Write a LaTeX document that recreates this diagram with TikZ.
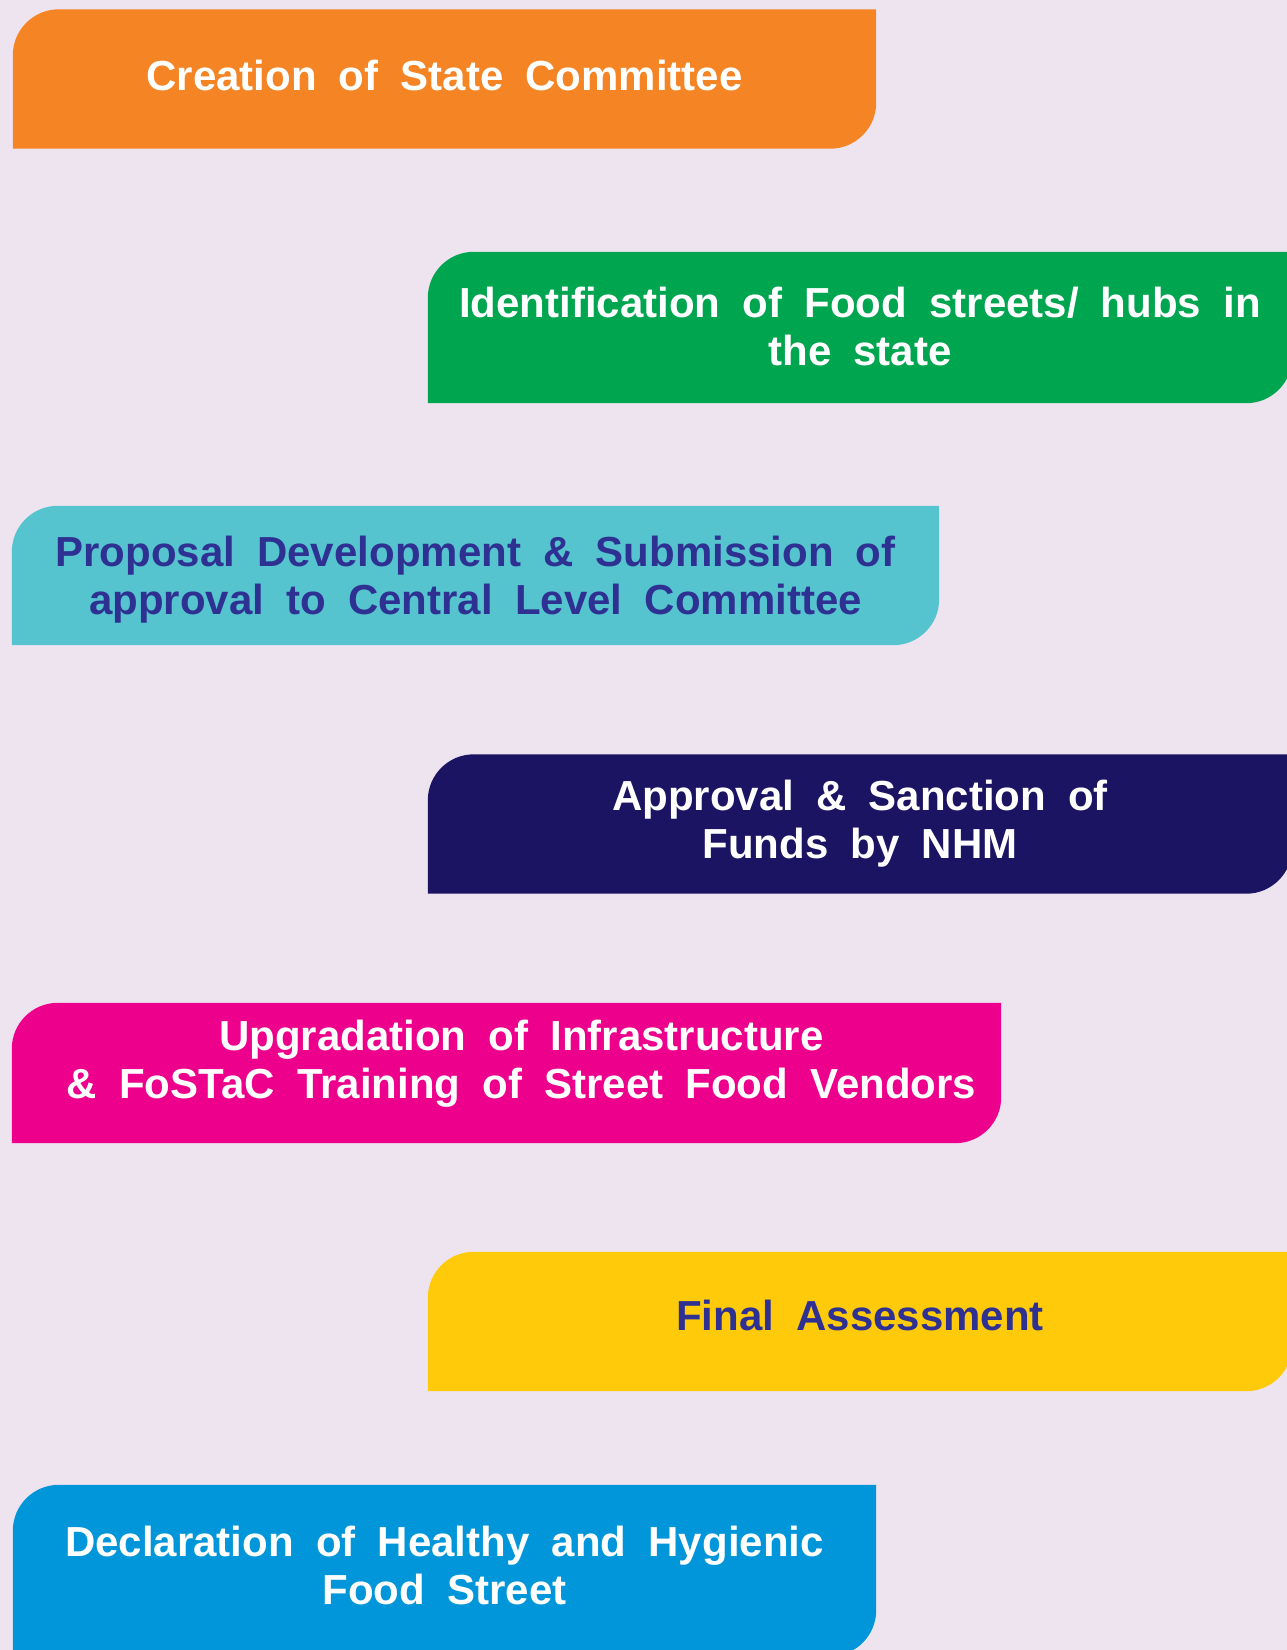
\documentclass[tikz,border=0pt]{standalone}
\usepackage{fontspec}
\setmainfont{Liberation Sans}[WordSpace=1.9]
\usepackage{tikz}

\definecolor{bgpage}{RGB}{238,228,240}
\definecolor{inkblue}{RGB}{46,49,146}
\definecolor{orangestep}{RGB}{244,132,36}
\definecolor{greenstep}{RGB}{0,165,80}
\definecolor{cyanstep}{RGB}{85,196,207}
\definecolor{navystep}{RGB}{27,20,98}
\definecolor{magentastep}{RGB}{236,0,140}
\definecolor{yellowstep}{RGB}{254,202,10}
\definecolor{bluestep}{RGB}{0,150,217}

\newlength{\cornerrad}
\setlength{\cornerrad}{46pt}

% box with rounded top left and bottom right corners only
\newcommand{\stepfill}[2]{%
    \fill[#2] (#1.south west) -- ([yshift=-\cornerrad]#1.north west)
        arc[start angle=180, end angle=90, radius=\cornerrad] -- (#1.north east)
        -- ([yshift=\cornerrad]#1.south east)
        arc[start angle=0, end angle=-90, radius=\cornerrad] -- cycle;}

\begin{document}
\begin{tikzpicture}[x=1pt,y=1pt,
        stepbox/.style={minimum height=139pt, inner sep=0pt},
        steptext/.style={align=center, font=\fontsize{42}{48}\selectfont\bfseries}]
            \fill[bgpage] (0,0) rectangle (1287,-1650);
            \useasboundingbox (0,0) rectangle (1287,-1650);
            \clip (0,0) rectangle (1287,-1650);

            \node[stepbox, minimum width=863pt] (creation) at (444.5,-79) {};
            \node[stepbox, minimum width=864pt, minimum height=151pt] (identify) at (860,-327.5) {};
            \node[stepbox, minimum width=927pt] (proposal) at (475.5,-575.5) {};
            \node[stepbox, minimum width=864pt] (approval) at (860,-824) {};
            \node[stepbox, minimum width=989pt, minimum height=140pt] (upgrade) at (506.5,-1073) {};
            \node[stepbox, minimum width=864pt] (assess) at (860,-1321.5) {};
            \node[stepbox, minimum width=863pt, minimum height=171pt] (declare) at (444.5,-1570.5) {};

            \stepfill{creation}{orangestep}
            \stepfill{identify}{greenstep}
            \stepfill{proposal}{cyanstep}
            \stepfill{approval}{navystep}
            \stepfill{upgrade}{magentastep}
            \stepfill{assess}{yellowstep}
            \stepfill{declare}{bluestep}

            \node[steptext, text=white] (creationtext) at ([yshift=4pt]creation.center) {Creation of State Committee};
            \node[steptext, text=white] (identifytext) at ([yshift=1pt]identify.center) {Identification of Food streets/ hubs in\\the state};
            \node[steptext, text=inkblue] (proposaltext) at ([yshift=-4pt]proposal.center) {Proposal Development \& Submission of\\approval to Central Level Committee};
            \node[steptext, text=white] (approvaltext) at (approval.center) {Approval \& Sanction of\\Funds by NHM};
            \node[steptext, text=white] (upgradetext) at ([xshift=15pt,yshift=9pt]upgrade.center) {Upgradation of Infrastructure\\\& FoSTaC Training of Street Food Vendors};
            \node[steptext, text=inkblue] (assesstext) at ([yshift=6pt]assess.center) {Final Assessment};
            \node[steptext, text=white] (declaretext) at ([yshift=5pt]declare.center) {Declaration of Healthy and Hygienic\\Food Street};

        \end{tikzpicture}
\end{document}
